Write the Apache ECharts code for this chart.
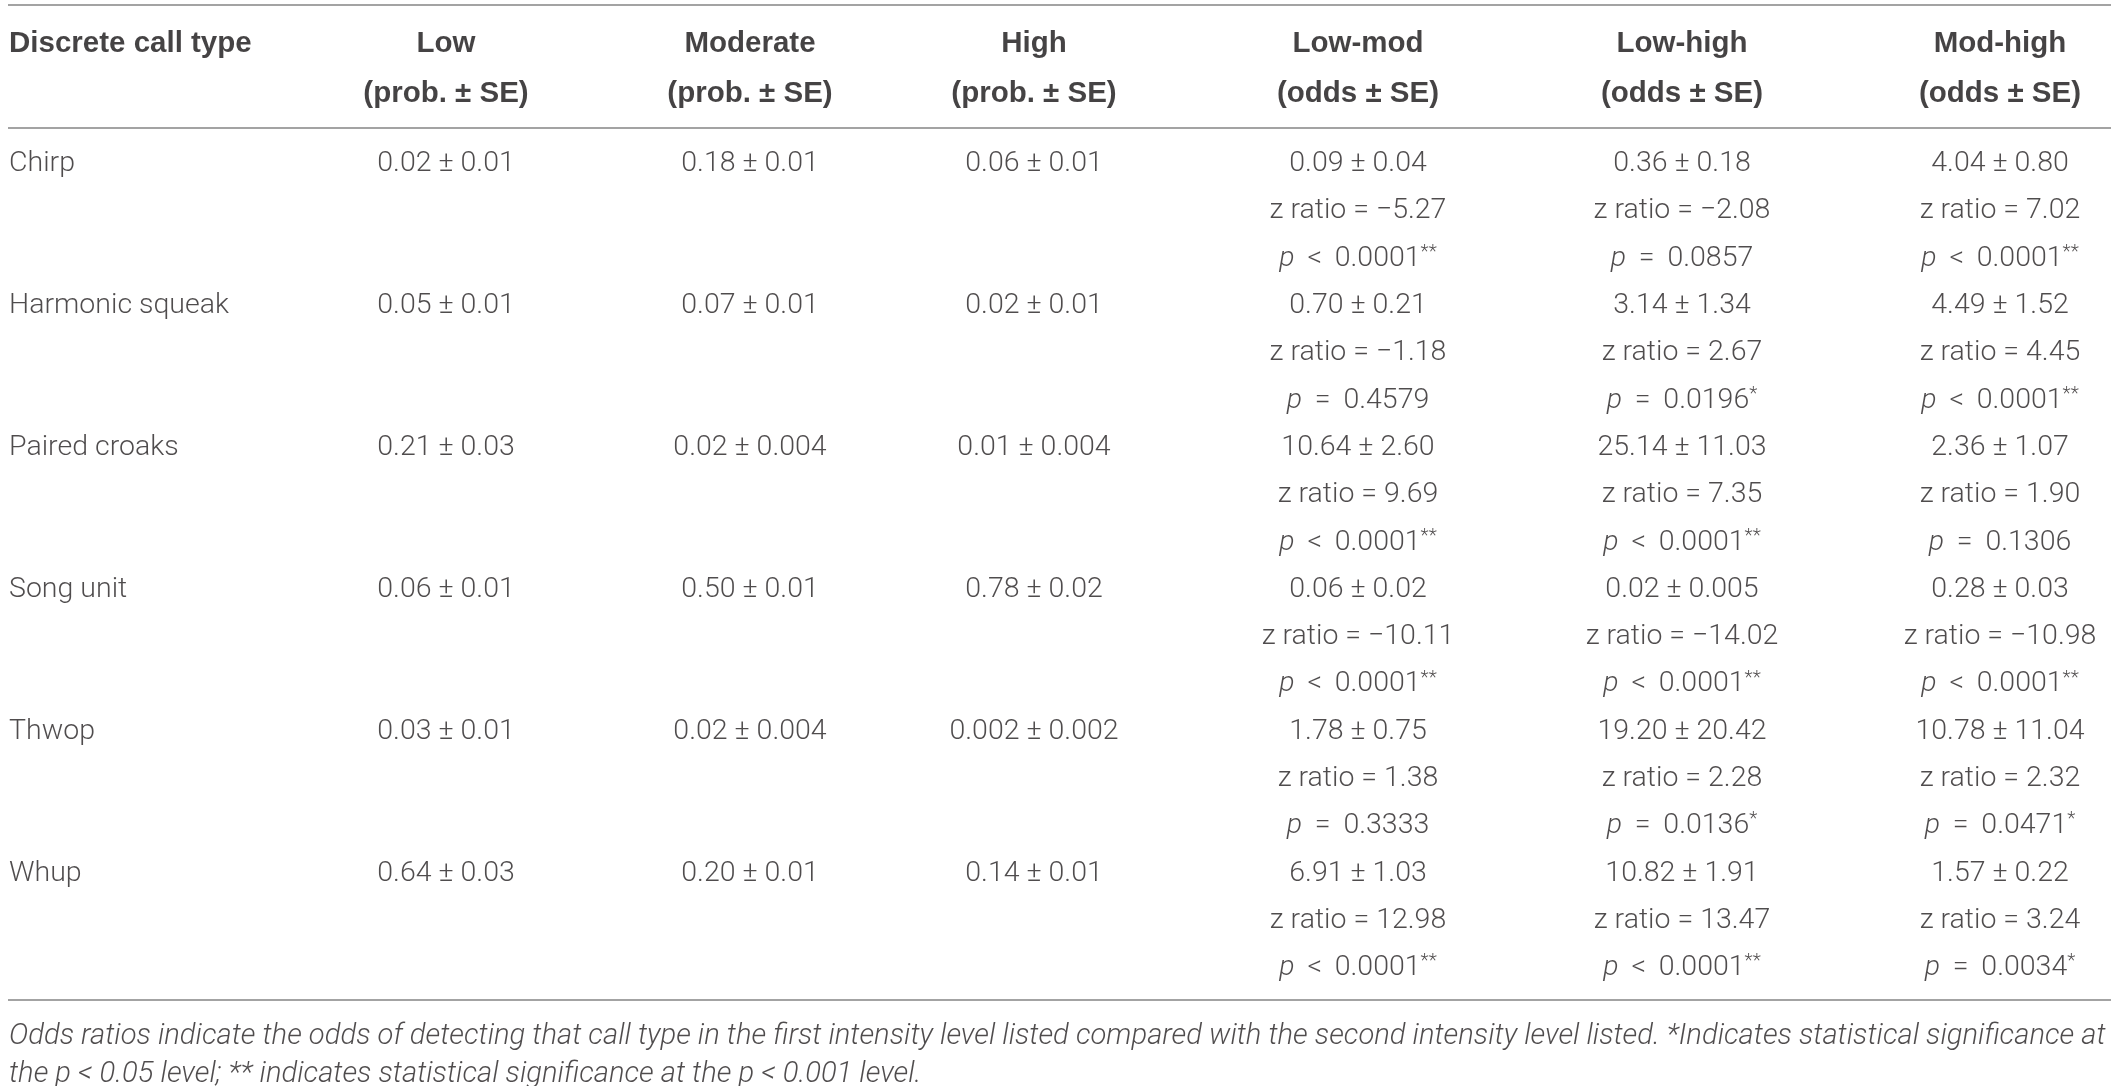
<!DOCTYPE html>
<html><head><meta charset="utf-8">
<script src="https://cdn.jsdelivr.net/npm/echarts@6/dist/echarts.min.js"></script>
<style>html,body{margin:0;padding:0;background:#fff}#c{width:2118px;height:1086px}</style>
</head><body><div id="c"></div>
<script>
// ---- data ----
const categories = ['Chirp', 'Harmonic squeak', 'Paired croaks', 'Song unit', 'Thwop', 'Whup'];
const headerTop = ['Discrete call type', 'Low', 'Moderate', 'High', 'Low-mod', 'Low-high', 'Mod-high'];
const headerSub = ['', '(prob. ± SE)', '(prob. ± SE)', '(prob. ± SE)', '(odds ± SE)', '(odds ± SE)', '(odds ± SE)'];
const lowProb = ['0.02 ± 0.01', '0.05 ± 0.01', '0.21 ± 0.03', '0.06 ± 0.01', '0.03 ± 0.01', '0.64 ± 0.03'];
const modProb = ['0.18 ± 0.01', '0.07 ± 0.01', '0.02 ± 0.004', '0.50 ± 0.01', '0.02 ± 0.004', '0.20 ± 0.01'];
const highProb = ['0.06 ± 0.01', '0.02 ± 0.01', '0.01 ± 0.004', '0.78 ± 0.02', '0.002 ± 0.002', '0.14 ± 0.01'];
const lowModOdds = ['0.09 ± 0.04', '0.70 ± 0.21', '10.64 ± 2.60', '0.06 ± 0.02', '1.78 ± 0.75', '6.91 ± 1.03'];
const lowModZ = [-5.27, -1.18, 9.69, -10.11, 1.38, 12.98];
const lowModP = ['< 0.0001**', '= 0.4579', '< 0.0001**', '< 0.0001**', '= 0.3333', '< 0.0001**'];
const lowHighOdds = ['0.36 ± 0.18', '3.14 ± 1.34', '25.14 ± 11.03', '0.02 ± 0.005', '19.20 ± 20.42', '10.82 ± 1.91'];
const lowHighZ = [-2.08, 2.67, 7.35, -14.02, 2.28, 13.47];
const lowHighP = ['= 0.0857', '= 0.0196*', '< 0.0001**', '< 0.0001**', '= 0.0136*', '< 0.0001**'];
const modHighOdds = ['4.04 ± 0.80', '4.49 ± 1.52', '2.36 ± 1.07', '0.28 ± 0.03', '10.78 ± 11.04', '1.57 ± 0.22'];
const modHighZ = [7.02, 4.45, 1.90, -10.98, 2.32, 3.24];
const modHighP = ['< 0.0001**', '< 0.0001**', '= 0.1306', '< 0.0001**', '= 0.0471*', '= 0.0034*'];
const footnoteLines = [
  'Odds ratios indicate the odds of detecting that call type in the first intensity level listed compared with the second intensity level listed. *Indicates statistical significance at',
  'the {i|p} < 0.05 level; ** indicates statistical significance at the {i|p} < 0.001 level.'
];

// ---- layout (positions in axis units, not data) ----
const colX = [9, 446, 750, 1034, 1358, 1682, 2000];
const headerRows = [-2.54, -1.48];
const ruleRows = [-3.36, -0.76, 17.67];
const footRows = [18.46, 19.26];
const TXT = '#231f20';
const HTXT = '#161415';
const FONT = 'Roboto';
const HFONT = 'Liberation Sans';
const BODY_SIZE = 28.5;
const FOOT_SIZE = 29.2;

function zText(v) { return 'z ratio = ' + (v < 0 ? '\u2212' : '') + Math.abs(v).toFixed(2); }
function pRich(s) {
  const m = s.match(/^([<=])\s*([0-9.]+)(\**)$/);
  let out = '{i|p}{n| \u2009' + m[1] + ' \u2009' + m[2] + '}';
  if (m[3]) out += '{s|' + m[3] + '}';
  return out;
}

const bodyCells = [];
const leftCells = [];
categories.forEach((c, i) => {
  const r = i * 3;
  leftCells.push({ value: [colX[0], r], txt: '{n|' + c + '}' });
  [lowProb, modProb, highProb].forEach((arr, k) => {
    bodyCells.push({ value: [colX[1 + k], r], txt: '{n|' + arr[i] + '}' });
  });
  [[lowModOdds, lowModZ, lowModP], [lowHighOdds, lowHighZ, lowHighP], [modHighOdds, modHighZ, modHighP]].forEach((g, k) => {
    const x = colX[4 + k];
    bodyCells.push({ value: [x, r], txt: '{n|' + g[0][i] + '}' });
    bodyCells.push({ value: [x, r + 1], txt: '{n|' + zText(g[1][i]) + '}' });
    bodyCells.push({ value: [x, r + 2], txt: pRich(g[2][i]) });
  });
});

const headCells = [];
headerTop.forEach((h, k) => {
  headCells.push({ value: [colX[k], headerRows[0]], txt: h, left: k === 0 });
  if (headerSub[k]) headCells.push({ value: [colX[k], headerRows[1]], txt: headerSub[k], left: false });
});

const footCells = footnoteLines.map((t, j) => ({ value: [colX[0], footRows[j]], txt: t }));

const bodyRich = {
  n: { fontFamily: FONT, fontWeight: 300, fontSize: BODY_SIZE, color: TXT, lineHeight: 32 },
  i: { fontFamily: FONT, fontWeight: 300, fontStyle: 'italic', fontSize: BODY_SIZE, color: TXT, lineHeight: 32 },
  s: { fontFamily: FONT, fontWeight: 300, fontSize: 19, color: TXT, lineHeight: 20, verticalAlign: 'top' }
};

function textSeries(cells, align, rich, baseStyle) {
  return {
    type: 'scatter',
    symbolSize: 0,
    silent: true,
    animation: false,
    data: cells.map(c => ({
      value: c.value,
      txt: c.txt,
      label: { align: (c.left || align === 'left') ? 'left' : 'center' }
    })),
    label: Object.assign({
      show: true,
      position: 'inside',
      verticalAlign: 'middle',
      formatter: p => p.data.txt,
      rich: rich
    }, baseStyle)
  };
}

const option = {
  backgroundColor: '#ffffff',
  animation: false,
  grid: { left: 8, right: 7, top: 0, bottom: 0 },
  xAxis: { type: 'value', min: 8, max: 2111, show: false },
  yAxis: { type: 'value', inverse: true, min: -3.467, max: 19.493, show: false },
  series: [
    Object.assign(textSeries(leftCells, 'left', bodyRich, {}), {
      markLine: {
        silent: true, symbol: 'none', animation: false,
        label: { show: false },
        lineStyle: { color: '#a3a3a3', width: 2, type: 'solid' },
        data: ruleRows.map(v => ({ yAxis: v }))
      }
    }),
    textSeries(bodyCells, 'center', bodyRich, {}),
    textSeries(headCells, 'center', null, { fontFamily: HFONT, fontWeight: 'bold', fontSize: 29.5, color: HTXT }),
    textSeries(footCells, 'left', {
      i: { fontFamily: FONT, fontWeight: 300, fontStyle: 'italic', fontSize: FOOT_SIZE, color: TXT }
    }, { fontFamily: FONT, fontWeight: 300, fontStyle: 'italic', fontSize: FOOT_SIZE, color: TXT })
  ]
};

echarts.init(document.getElementById('c'), null, { renderer: 'canvas' }).setOption(option);
</script>
</body></html>
